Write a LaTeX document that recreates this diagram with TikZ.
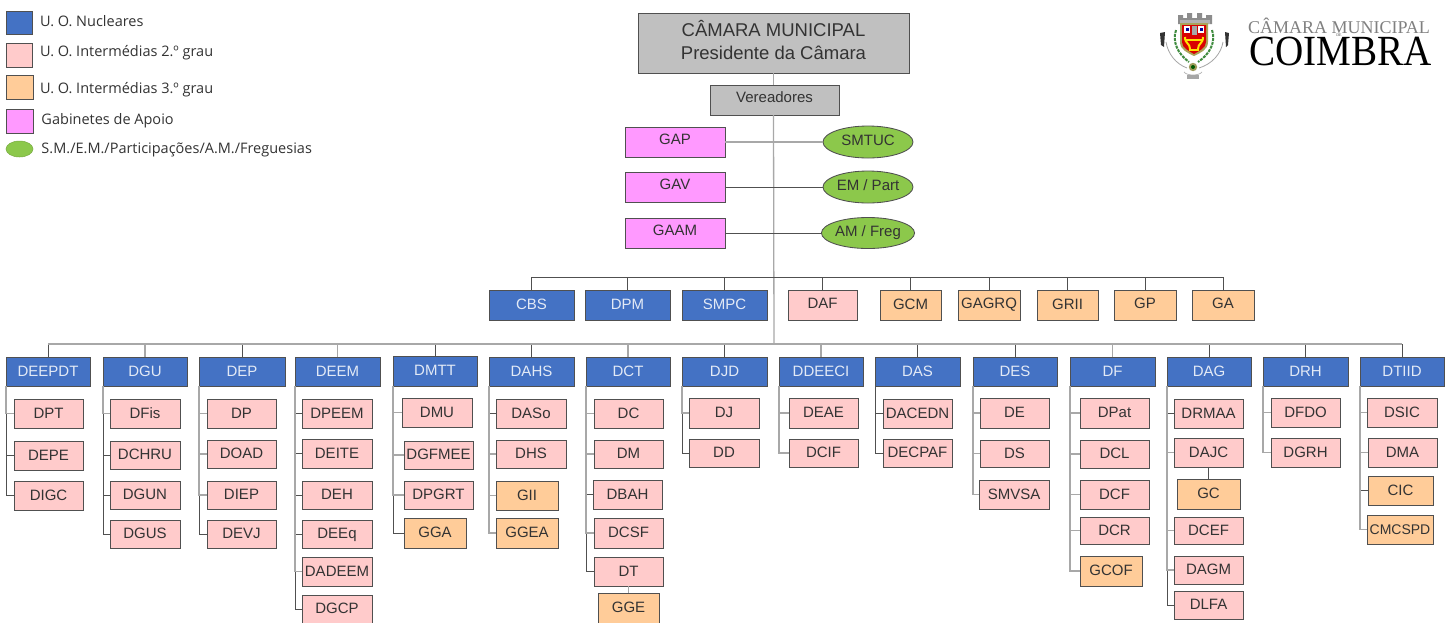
\documentclass[tikz,border=0pt]{standalone}
\usepackage{fontspec}
\usepackage{graphicx}
\setmainfont{Liberation Sans}
\newfontfamily\legfont{Open Sans}
\newfontfamily\logofont{Liberation Serif}
\usetikzlibrary{shapes.geometric}
\definecolor{cblue}{HTML}{4472C4}
\definecolor{cpink}{HTML}{FFCBCB}
\definecolor{corange}{HTML}{FFCC99}
\definecolor{cmag}{HTML}{FF99FF}
\definecolor{cgreen}{HTML}{8CC84B}
\definecolor{cgray}{HTML}{C0C0C0}
\definecolor{cedge}{HTML}{505050}
\definecolor{ctext}{HTML}{333333}
\definecolor{cdark}{HTML}{505050}
\definecolor{clight}{HTML}{A8A8A8}
\tikzset{
  base/.style={draw=cedge,line width=0.85pt,inner sep=0pt,outer sep=0pt,text=ctext,text height=11pt,text depth=2pt,font=\fontsize{15}{18}\selectfont},
  nuc/.style={base,fill=cblue,text=white!85!cblue},
  pink/.style={base,fill=cpink},
  orange/.style={base,fill=corange},
  gab/.style={base,fill=cmag,text depth=6pt},
  graybox/.style={base,fill=cgray},
  ell/.style={base,ellipse,fill=cgreen,text depth=4pt},
  legtext/.style={anchor=west,inner sep=0pt,outer sep=0pt,text=ctext,font=\legfont\fontsize{14.5}{17}\selectfont},
  dk/.style={draw=cdark,line width=1pt},
  lt/.style={draw=clight,line width=1.3pt},
  busline/.style={draw=clight,line width=1.6pt},
}
\newcommand{\bxx}[6]{\node[#1,minimum width={(#5-#3)*1pt},minimum height={(#6-#4)*1pt}] (#2) at ({(#3+#5)/2},{(#4+#6)/2}) {#2};}
\begin{document}
\begin{tikzpicture}[x=1pt,y=-1pt]
\useasboundingbox (0,0) rectangle (1454,622);
\fill[white] (0,0) rectangle (1454,622);
% legend
\node[base,fill=cblue,minimum width=26pt,minimum height=23pt] (l1) at (19,22.5) {};
\node[base,fill=cpink,minimum width=26pt,minimum height=24pt] (l2) at (19,55) {};
\node[base,fill=corange,minimum width=27pt,minimum height=24pt] (l3) at (19.5,87) {};
\node[base,fill=cmag,minimum width=27pt,minimum height=24pt] (l4) at (19.5,121) {};
\node[ellipse,fill=cgreen,draw=cgreen!85!black,line width=0.5pt,inner sep=0pt,minimum width=27pt,minimum height=16pt] (l5) at (19.5,149) {};
\node[legtext] (t1) at (40,21) {U. O. Nucleares};
\node[legtext] (t2) at (40,53) {U. O. Intermédias 2.º grau};
\node[legtext] (t3) at (40,90) {U. O. Intermédias 3.º grau};
\node[legtext] (t4) at (41.5,121) {Gabinetes de Apoio};
\node[legtext] (t5) at (41.5,150) {S.M./E.M./Participações/A.M./Freguesias};
% logo crest
\draw[black!35,line width=0.8pt] (1166,42) .. controls (1168,54) and (1176,64) .. (1187,68);
\draw[black!35,line width=0.8pt] (1223,42) .. controls (1221,54) and (1212,64) .. (1199,68);
\draw[black!30,line width=0.7pt] (1184,72) .. controls (1187,76) and (1199,76) .. (1202,72);
\fill[black!35] (1187,75) rectangle (1199,79);
\fill[black!80] (1160,33) -- (1165,32) -- (1164,47) -- (1161,45) -- cycle;
\fill[black!80] (1229,33) -- (1225,32) -- (1226,47) -- (1228,45) -- cycle;
\draw[green!40!black!75,line width=2pt,dash pattern=on 3pt off 1pt] (1176,30) .. controls (1172,42) and (1178,54) .. (1189,62);
\draw[green!40!black!75,line width=2pt,dash pattern=on 3pt off 1pt] (1212,30) .. controls (1216,42) and (1210,54) .. (1198,62);
\fill[black!45] (1178,24) -- (1178,15) -- (1183,15) -- (1183,18) -- (1187,18) -- (1187,13) -- (1192,13) -- (1192,18) -- (1197,18) -- (1197,13) -- (1202,13) -- (1202,18) -- (1206,18) -- (1206,15) -- (1212,15) -- (1212,24) -- cycle;
\fill[black!30] (1180,20) rectangle (1210,24);
\fill[yellow!55!black!85] (1180,23) -- (1208,23) -- (1208,42) .. controls (1208,50) and (1200,53) .. (1194,56) .. controls (1188,53) and (1180,50) .. (1180,42) -- cycle;
\fill[red!85!black] (1182,25) -- (1206,25) -- (1206,42) .. controls (1206,48) and (1199,51) .. (1194,54) .. controls (1189,51) and (1182,48) .. (1182,42) -- cycle;
\fill[white] (1184,26) rectangle (1190,33);
\fill[white] (1198,26) rectangle (1204,33);
\fill[blue!60!black] (1185.5,27.5) rectangle (1188.5,31);
\fill[blue!60!black] (1199.5,27.5) rectangle (1202.5,31);
\fill[black!35] (1191.5,26) rectangle (1196.5,35);
\draw[yellow!85!orange,line width=2pt] (1185,37) .. controls (1185,44) and (1190,43) .. (1190,49);
\draw[yellow!85!orange,line width=2pt] (1203,37) .. controls (1203,44) and (1198,43) .. (1198,49);
\draw[yellow!85!orange,line width=1.6pt] (1186,40) -- (1202,40);
\draw[yellow!85!orange,line width=1.6pt] (1189,50) -- (1199,50);
\fill[yellow!50!black!85] (1193,67) circle (4.2pt);
\fill[green!35!black] (1193,67) circle (2pt);
% logo text
\node[anchor=west,inner sep=0pt,outer sep=0pt,text=black!50,font=\logofont\fontsize{18}{20}\selectfont] (lg1) at (1248,25.5) {CÂMARA MUNICIPAL};
\node[inner sep=0pt,outer sep=0pt,text=black!70,font=\logofont\fontsize{4}{5}\selectfont] (lg2) at (1339,35.5) {DE};
\node[anchor=west,inner sep=0pt,outer sep=0pt,text=black,font=\logofont\fontsize{43}{46}\selectfont] (lg3) at (1249,51) {\scalebox{0.91}[1]{COIMBRA}};
% top
\node[base,fill=cgray,minimum width=271pt,minimum height=60pt,text height=,text depth=] (CM) at (773.5,43) {\raisebox{2.5pt}{\fontsize{18.5}{23}\selectfont\begin{tabular}{@{}c@{}}CÂMARA MUNICIPAL\\Presidente da Câmara\end{tabular}}};
\bxx{graybox,text depth=6pt}{Vereadores}{710}{85}{839}{115}
\coordinate (busA) at (774,277);
\coordinate (busB) at (774,344);
\bxx{gab}{GAP}{625}{127}{725}{157}
\bxx{gab}{GAV}{625}{172}{725}{202}
\bxx{gab}{GAAM}{625}{218}{725}{248}
\node[ell,minimum width=90pt,minimum height=32pt] (SMTUC) at (868,142) {SMTUC};
\node[ell,minimum width=90pt,minimum height=32pt] (EMPart) at (868,187) {EM / Part};
\node[ell,minimum width=90pt,minimum height=31pt] (AMFreg) at (868,233) {AM / Freg};
% second row
\bxx{nuc}{CBS}{489}{290}{574}{320}
\bxx{nuc}{DPM}{585}{290}{670}{320}
\bxx{nuc}{SMPC}{682}{290}{767}{320}
\bxx{pink,text depth=5pt}{DAF}{788}{290}{857}{320}
\bxx{orange}{GCM}{880}{290}{941}{320}
\bxx{orange,text depth=5pt}{GAGRQ}{958}{290}{1020}{320}
\bxx{orange}{GRII}{1037}{290}{1098}{320}
\bxx{orange,text depth=5pt}{GP}{1114}{290}{1176}{320}
\bxx{orange,text depth=5pt}{GA}{1192}{290}{1254}{320}
% third row heads
\bxx{nuc}{DEEPDT}{6}{357}{90}{386}
\bxx{nuc}{DGU}{103}{357}{187}{386}
\bxx{nuc}{DEP}{199}{357}{285}{386}
\bxx{nuc}{DEEM}{295}{357}{380}{386}
\bxx{nuc}{DMTT}{393}{356}{477}{386}
\bxx{nuc}{DAHS}{489}{357}{574}{386}
\bxx{nuc}{DCT}{586}{357}{670}{386}
\bxx{nuc}{DJD}{682}{357}{767}{386}
\bxx{nuc}{DDEECI}{779}{357}{863}{386}
\bxx{nuc}{DAS}{875}{357}{960}{386}
\bxx{nuc}{DES}{973}{357}{1057}{386}
\bxx{nuc}{DF}{1070}{357}{1155}{386}
\bxx{nuc}{DAG}{1167}{357}{1251}{386}
\bxx{nuc}{DRH}{1263}{357}{1348}{386}
\bxx{nuc}{DTIID}{1360}{357}{1444}{386}
% children
\bxx{pink}{DPT}{14}{399}{83}{428}
\bxx{pink}{DEPE}{14}{441}{83}{470}
\bxx{pink}{DIGC}{14}{481}{83}{510}
\bxx{pink}{DFis}{110}{399}{180}{428}
\bxx{pink}{DCHRU}{110}{441}{180}{469}
\bxx{pink}{DGUN}{110}{481}{180}{509}
\bxx{pink}{DGUS}{110}{520}{180}{548}
\bxx{pink}{DP}{207}{399}{276}{428}
\bxx{pink}{DOAD}{207}{440}{276}{468}
\bxx{pink}{DIEP}{207}{481}{276}{509}
\bxx{pink}{DEVJ}{207}{520}{276}{548}
\bxx{pink}{DPEEM}{302}{399}{372}{428}
\bxx{pink}{DEITE}{302}{439}{372}{468}
\bxx{pink}{DEH}{302}{481}{372}{509}
\bxx{pink}{DEEq}{302}{520}{372}{548}
\bxx{pink}{DADEEM}{302}{557}{372}{586}
\bxx{pink}{DGCP}{302}{595}{372}{623}
\bxx{pink}{DMU}{402}{398}{472}{427}
\bxx{pink}{DGFMEE}{404}{441}{473}{469}
\bxx{pink}{DPGRT}{404}{481}{473}{509}
\bxx{orange}{GGA}{404}{518}{466}{548}
\bxx{pink}{DASo}{496}{399}{566}{428}
\bxx{pink}{DHS}{496}{440}{566}{468}
\bxx{orange}{GII}{496}{481}{558}{510}
\bxx{orange}{GGEA}{496}{518}{558}{548}
\bxx{pink}{DC}{594}{399}{663}{428}
\bxx{pink}{DM}{594}{440}{663}{468}
\bxx{pink}{DBAH}{593}{480}{662}{509}
\bxx{pink}{DCSF}{594}{518}{663}{548}
\bxx{pink}{DT}{594}{557}{663}{586}
\bxx{orange}{GGE}{598}{593}{659}{623}
\bxx{pink}{DJ}{689}{398}{759}{428}
\bxx{pink}{DD}{689}{439}{759}{467}
\bxx{pink}{DEAE}{789}{398}{858}{428}
\bxx{pink}{DCIF}{789}{439}{858}{467}
\bxx{pink}{DACEDN}{883}{399}{952}{428}
\bxx{pink}{DECPAF}{883}{439}{952}{467}
\bxx{pink}{DE}{980}{398}{1049}{428}
\bxx{pink}{DS}{980}{440}{1049}{467}
\bxx{pink}{SMVSA}{979}{480}{1049}{509}
\bxx{pink}{DPat}{1080}{398}{1149}{428}
\bxx{pink}{DCL}{1080}{440}{1149}{468}
\bxx{pink}{DCF}{1080}{480}{1149}{509}
\bxx{pink}{DCR}{1080}{517}{1149}{544}
\bxx{orange}{GCOF}{1080}{556}{1142}{586}
\bxx{pink}{DRMAA}{1174}{399}{1243}{428}
\bxx{pink}{DAJC}{1174}{438}{1243}{467}
\bxx{orange}{GC}{1177}{479}{1240}{509}
\bxx{pink}{DCEF}{1174}{517}{1243}{544}
\bxx{pink}{DAGM}{1174}{556}{1243}{584}
\bxx{pink}{DLFA}{1174}{591}{1243}{619}
\bxx{pink}{DFDO}{1271}{398}{1340}{427}
\bxx{pink}{DGRH}{1271}{438}{1340}{467}
\bxx{pink}{DSIC}{1367}{398}{1437}{427}
\bxx{pink}{DMA}{1368}{438}{1437}{467}
\bxx{orange}{CIC}{1368}{476}{1433}{505}
\bxx{orange,font=\fontsize{14}{17}\selectfont}{CMCSPD}{1367}{515}{1433}{544}
% connectors
\draw[lt] (CM.south) -- (Vereadores.north -| CM.south);
\draw[lt] (Vereadores.south -| CM.south) -- (busB);
\draw[lt] (GAP.east) -- (SMTUC.west);
\draw[dk] (GAV.east) -- (EMPart.west);
\draw[dk] (GAAM.east) -- (AMFreg.west);
% upper bus
\draw[dk] (CBS.north) -- (CBS.north |- busA) -- (GA.north |- busA) -- (GA.north);
\foreach \n in {DPM,SMPC,GCM,GRII} \draw[dk] (\n.north) -- (\n.north |- busA);
\foreach \n in {DAF,GAGRQ,GP} \draw[dk] (\n.north) -- (\n.north |- busA);
% lower bus
\foreach \n in {DEEPDT,DEP,DMTT,DAHS,DJD,DAS,DES,DAG,DRH,DTIID} \draw[dk] (\n.north) -- (\n.north |- busB);
\foreach \n in {DGU,DEEM,DCT,DDEECI,DF} \draw[lt,line width=1.6pt] (\n.north) -- (\n.north |- busB);
\draw[busline] (DEEPDT.north |- busB) -- (DTIID.north |- busB);
% subtrees
\foreach \p/\c in {DEEPDT/DEPE,DEEPDT/DIGC,DGU/DCHRU,DGU/DGUN,DGU/DGUS,DEP/DEVJ,DEEM/DPEEM,DEEM/DEITE,DEEM/DEH,DEEM/DEEq,DEEM/DGCP,DMTT/GGA,DAHS/DASo,DCT/DBAH,DCT/DT,DAS/DACEDN,DAS/DECPAF,DAG/DRMAA,DAG/DLFA,DTIID/CIC,DJD/DD}
  {\draw[dk] (\p.south west) |- (\c.west);}
\foreach \p/\c in {DEEPDT/DPT,DGU/DFis,DEP/DP,DEP/DOAD,DEP/DIEP,DEEM/DADEEM,DMTT/DMU,DMTT/DGFMEE,DMTT/DPGRT,DAHS/DHS,DAHS/GII,DAHS/GGEA,DCT/DC,DCT/DM,DCT/DCSF,DJD/DJ,DDEECI/DEAE,DDEECI/DCIF,DES/DE,DES/DS,DES/SMVSA,DF/DPat,DF/DCL,DF/DCF,DF/DCR,DF/GCOF,DAG/DAJC,DAG/DCEF,DAG/DAGM,DRH/DFDO,DRH/DGRH,DTIID/DSIC,DTIID/DMA,DTIID/CMCSPD}
  {\draw[lt] (\p.south west) |- (\c.west);}
\draw[dk] (DAJC.south -| GC.north) -- (GC.north);
\draw[lt,line width=1.6pt] (DT.south) -- (GGE.north -| DT.south);
\end{tikzpicture}
\end{document}
